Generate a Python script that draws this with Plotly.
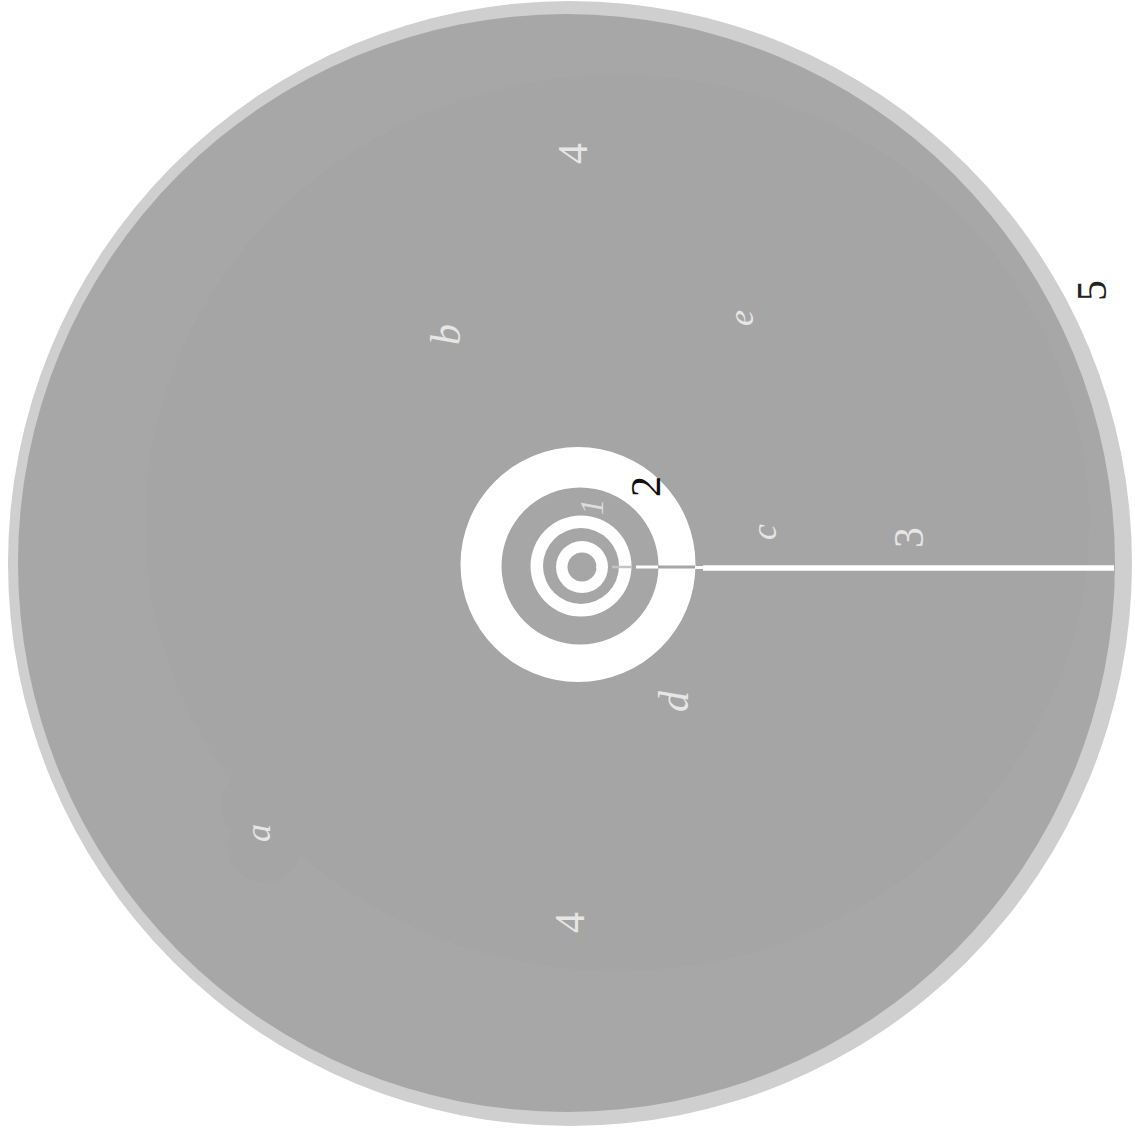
import plotly.graph_objects as go

# Discs, painted from back to front (centre x, centre y, radius x, radius y, colour)
disc_names = ["outer", "body", "inner_shade", "lobe_low", "lobe_high", "ring2", "gap2", "ring1", "gap1", "core", "eye"]
disc_cx = [570, 566.5, 617, 265, 258, 578, 580, 581, 581, 582, 582]
disc_cy = [563.5, 563, 523, 845, 805, 564.5, 566, 566, 566, 567, 567]
disc_rx = [562, 548.5, 472, 37, 37, 117.5, 78.5, 50.5, 38, 26, 14.5]
disc_ry = [562.5, 549, 448, 38, 37, 117.5, 78.5, 50.5, 38, 26, 14.5]
disc_colors = ["#cfcfcf", "#a7a7a7", "#a5a5a5", "#a5a5a5", "#a5a5a5", "#ffffff", "#a6a6a6",
               "#ffffff", "#a6a6a6", "#ffffff", "#a6a6a6"]

# Radial slit segments (x start, x end, y, width, colour)
slit_x0 = [703, 596, 612, 636, 658, 695]
slit_x1 = [1114, 607, 632, 658, 695, 703]
slit_y = [568, 567, 567, 567, 567, 567.5]
slit_w = [5.5, 2.5, 2.5, 3, 3, 3]
slit_colors = ["#ffffff", "#ffffff", "#c4c4c4", "#ffffff", "#a6a6a6", "#ffffff"]

# Labels
label_text = ["4", "4", "<i>b</i>", "<i>e</i>", "<i>c</i>", "<i>d</i>", "<i>a</i>", "3", "2", "<i>1</i>", "5"]
label_x = [573, 570, 446, 741, 764, 674, 258, 909, 646, 592, 1092]
label_y = [154, 923, 335, 318, 532, 701, 833, 538, 487, 507, 291]
label_size = [42, 42, 42, 36, 36, 42, 36, 42, 42, 33, 42]
label_color = ["#e6e6e6", "#e6e6e6", "#e6e6e6", "#e6e6e6", "#e6e6e6", "#e6e6e6", "#e6e6e6",
               "#e6e6e6", "#111111", "#dddddd", "#222222"]

shapes = [
    dict(type="circle", xref="x", yref="y", layer="below",
         x0=cx - rx, x1=cx + rx, y0=cy - ry, y1=cy + ry,
         fillcolor=c, line=dict(width=0))
    for cx, cy, rx, ry, c in zip(disc_cx, disc_cy, disc_rx, disc_ry, disc_colors)
]

fig = go.Figure()
for x0, x1, y, w, c in zip(slit_x0, slit_x1, slit_y, slit_w, slit_colors):
    fig.add_trace(go.Scatter(x=[x0, x1], y=[y, y], mode="lines",
                             line=dict(color=c, width=w), hoverinfo="skip", showlegend=False))

annotations = [
    dict(x=x, y=y, xref="x", yref="y", text=t, textangle=-90, showarrow=False,
         font=dict(family="Liberation Serif", size=s, color=c))
    for t, x, y, s, c in zip(label_text, label_x, label_y, label_size, label_color)
]

fig.update_layout(
    width=1135, height=1129, autosize=False,
    margin=dict(l=0, r=0, t=0, b=0),
    paper_bgcolor="#ffffff", plot_bgcolor="#ffffff",
    showlegend=False, shapes=shapes, annotations=annotations,
    xaxis=dict(range=[0, 1135], visible=False, fixedrange=True),
    yaxis=dict(range=[1129, 0], visible=False, fixedrange=True),
)
fig.write_html("out.html", config=dict(displayModeBar=False),
               post_script="document.body.style.margin='0';document.documentElement.style.overflow='hidden';")
